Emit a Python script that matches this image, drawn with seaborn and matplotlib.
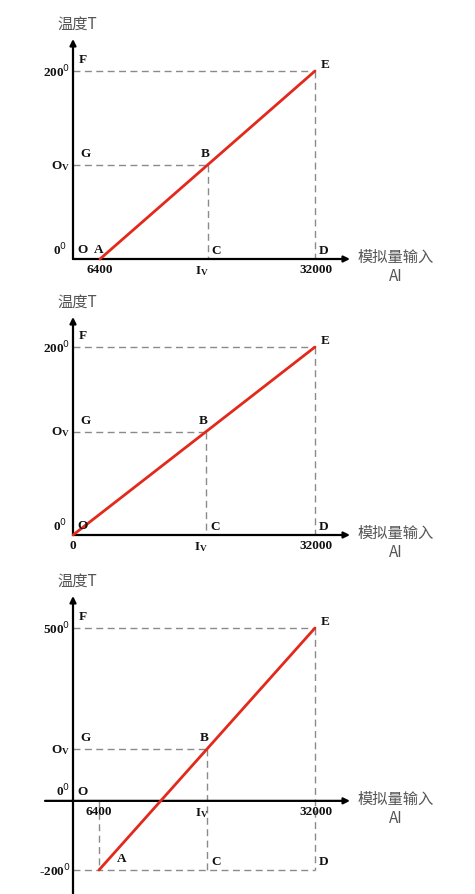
import matplotlib
matplotlib.use("Agg")
import matplotlib.pyplot as plt
import seaborn as sns
import pandas as pd

# ---------------- data ----------------
ai_start = [6400, 0, 6400]          # AI value at point A
ai_end = [32000, 32000, 32000]      # AI value at point E
t_low = [0, 0, -200]                # temperature at A
t_high = [200, 200, 500]            # temperature at E
iv_vals = [19200, 17600, 19200]     # I_V position (point C)
ov_vals = [100, 110, 150]           # O_V value (point B)
x_tick_text = [["6400", "32000"], ["0", "32000"], ["6400", "32000"]]
t_high_text = ["200$^0$", "200$^0$", "500$^0$"]
t_low_text = ["0$^0$", "0$^0$", "-200$^0$"]

# ---------------- style ----------------
sns.set_style("white")
plt.rcParams["font.family"] = ["Noto Sans CJK SC", "DejaVu Sans"]
SERIF = ["Liberation Serif", "DejaVu Serif"]
CJK = ["Noto Sans CJK SC", "DejaVu Sans"]
RED = "#e2291b"
DASH = "#8a8a8a"

W, H = 475, 895
fig = plt.figure(figsize=(W / 100, H / 100), dpi=100)

# layout in pixels: axes box and anchor pixels for the scales
panels = [
    dict(box=(0, 0, 475, 285), xa=((6400, 100), (32000, 315)), ya=((0, 260), (200, 72)),
         yaxis_x=73, yaxis_bot=260, yaxis_top=40, xaxis_left=73, xaxis_right=350),
    dict(box=(0, 285, 475, 570), xa=((0, 73), (32000, 315)), ya=((0, 536), (200, 348)),
         yaxis_x=73, yaxis_bot=536, yaxis_top=318, xaxis_left=73, xaxis_right=350),
    dict(box=(0, 570, 475, 895), xa=((6400, 99), (32000, 315)), ya=((-200, 871), (500, 629)),
         yaxis_x=73, yaxis_bot=895, yaxis_top=597, xaxis_left=45, xaxis_right=350),
]


def lims(anchors, lo_px, hi_px):
    (v1, p1), (v2, p2) = anchors
    s = (v2 - v1) / (p2 - p1)
    a = v1 + (lo_px - p1) * s
    b = v1 + (hi_px - p1) * s
    return a, b, s


def lab(ax, text, xy, off, ha="left", va="bottom", size=9.5, family=SERIF,
        color="#111111", weight="bold"):
    ax.annotate(text, xy=xy, xytext=off, textcoords="offset points",
                ha=ha, va=va, fontsize=size, family=family, color=color,
                fontweight=weight, multialignment="center",
                annotation_clip=False)


for i, p in enumerate(panels):
    l, t, r, b = p["box"]
    ax = fig.add_axes([l / W, 1 - b / H, (r - l) / W, (b - t) / H])
    ax.patch.set_alpha(0)
    x0, x1, sx = lims(p["xa"], l, r)
    yb, yt, sy = lims(p["ya"], b, t)
    ax.set_xlim(x0, x1)
    ax.set_ylim(yb, yt)
    ax.set_axis_off()

    ax_x = x0 + (p["yaxis_x"] - l) * sx      # data x of vertical axis
    px2y = lambda py: yb + (py - b) * sy
    px2x = lambda px: x0 + (px - l) * sx
    axis_y = 0                              # horizontal axis at T = 0

    xs, xe, tl, th, iv, ov = ai_start[i], ai_end[i], t_low[i], t_high[i], iv_vals[i], ov_vals[i]

    # dashed guide lines
    dk = dict(color=DASH, lw=1.0, ls=(0, (5, 3.2)), zorder=1)
    ax.plot([ax_x, xe], [th, th], **dk)               # F - E
    ax.plot([ax_x, iv], [ov, ov], **dk)               # G - B
    ax.plot([xe, xe], [th, min(tl, axis_y)], **dk)    # E - D
    ax.plot([iv, iv], [ov, min(tl, axis_y)], **dk)    # B - C
    if tl < 0:
        ax.plot([ax_x, xe], [tl, tl], **dk)           # -200 line
        ax.plot([xs, xs], [axis_y, tl], **dk)         # 6400 drop

    # axes with arrows
    ax.annotate("", xy=(ax_x, px2y(p["yaxis_top"])), xytext=(ax_x, px2y(p["yaxis_bot"])),
                arrowprops=dict(arrowstyle="-|>", color="black", lw=1.6,
                                mutation_scale=9, shrinkA=0, shrinkB=0),
                annotation_clip=False)
    ax.annotate("", xy=(px2x(p["xaxis_right"]), axis_y), xytext=(px2x(p["xaxis_left"]), axis_y),
                arrowprops=dict(arrowstyle="-|>", color="black", lw=1.6,
                                mutation_scale=9, shrinkA=0, shrinkB=0),
                annotation_clip=False)

    # red characteristic line
    df = pd.DataFrame({"AI": [xs, xe], "T": [tl, th]})
    sns.lineplot(data=df, x="AI", y="T", color=RED, lw=2.0, ax=ax, zorder=3)

    # point letters
    lab(ax, "F", (ax_x, th), (4, 4))
    lab(ax, "E", (xe, th), (4, 1))
    lab(ax, "G", (ax_x, ov), (5, 4))
    lab(ax, "B", (iv, ov), (-2, 4), ha="center")
    lab(ax, "C", (iv, min(tl, axis_y)), (3, 2))
    lab(ax, "D", (xe, min(tl, axis_y)), (3, 2))
    lab(ax, "O", (ax_x, axis_y), (3, 3))
    if tl < 0:
        lab(ax, "A", (xs, tl), (13, 4))
    elif xs > 0:
        lab(ax, "A", (xs, tl), (-1, 3), ha="center")

    # tick style labels
    lab(ax, t_high_text[i], (ax_x, th), (-2, 0), ha="right", va="center")
    lab(ax, r"$\mathregular{O_V}$", (ax_x, ov), (-2, 0), ha="right", va="center")
    if tl < 0:
        lab(ax, t_low_text[i], (ax_x, tl), (-2, 0), ha="right", va="center")
        lab(ax, "0$^0$", (ax_x, axis_y), (-2, 2), ha="right", va="bottom")
    else:
        lab(ax, t_low_text[i], (ax_x, axis_y), (-4, 1), ha="right", va="bottom")
    lab(ax, x_tick_text[i][0], (xs, axis_y), (0, -3), ha="center", va="top")
    lab(ax, x_tick_text[i][1], (xe, axis_y), (1, -3), ha="center", va="top")
    lab(ax, r"$\mathregular{I_V}$", (iv, axis_y), (-4, -3), ha="center", va="top")

    # axis titles
    lab(ax, "温度T", (ax_x, px2y(p["yaxis_top"])), (-11, 5), ha="left", va="bottom",
        size=11, family=CJK, color="#555555", weight="normal")
    lab(ax, "模拟量输入\nAI", (px2x(p["xaxis_right"]), axis_y), (33, 8), ha="center", va="top",
        size=11, family=CJK, color="#555555", weight="normal")

fig.savefig("out.png", dpi=100)
